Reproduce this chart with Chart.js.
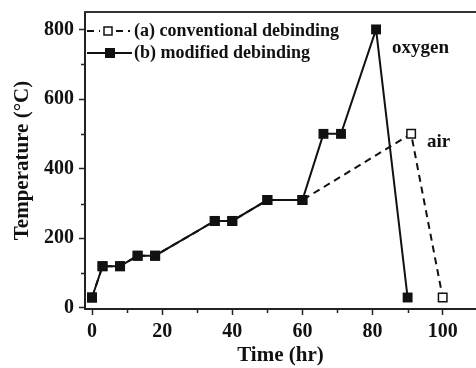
<!DOCTYPE html>
<html>
<head>
<meta charset="utf-8">
<script src="https://cdn.jsdelivr.net/npm/chart.js@4/dist/chart.umd.min.js"></script>
<style>
  html, body { margin: 0; padding: 0; background: #fff; }
  #wrap { width: 476px; height: 368px; }
</style>
</head>
<body>
<div id="wrap"><canvas id="debind"></canvas></div>
<script>
// (a) conventional debinding
const timeA = [0, 3, 8, 13, 18, 35, 40, 50, 60, 91, 100];
const tempA = [30, 120, 120, 150, 150, 250, 250, 310, 310, 500, 30];
// (b) modified debinding
const timeB = [0, 3, 8, 13, 18, 35, 40, 50, 60, 66, 71, 81, 90];
const tempB = [30, 120, 120, 150, 150, 250, 250, 310, 310, 500, 500, 800, 30];

const seriesNames = ['(a) conventional debinding', '(b) modified debinding'];
const xMajor = [0, 20, 40, 60, 80, 100];
const xMinor = [10, 30, 50, 70, 90];
const yMajor = [0, 200, 400, 600, 800];
const yMinor = [100, 300, 500, 700];

const serif = '"Liberation Serif", "Times New Roman", serif';

function pts(xs, ys) {
  return xs.map((x, i) => ({ x: x, y: ys[i] }));
}

// legend, notes, top frame line and minor ticks
const decor = {
  id: 'decor',
  afterDraw(chart) {
    const ctx = chart.ctx;
    const area = chart.chartArea;
    const xs = chart.scales.x, ys = chart.scales.y;
    ctx.save();
    ctx.strokeStyle = '#333';
    ctx.lineWidth = 2;
    ctx.beginPath();
    ctx.moveTo(area.left - 1, area.top);
    ctx.lineTo(area.right, area.top);
    ctx.stroke();

    ctx.strokeStyle = '#222';
    ctx.lineWidth = 1.5;
    ctx.beginPath();
    xMinor.forEach(v => {
      const px = Math.round(xs.getPixelForValue(v)) + 0.5;
      ctx.moveTo(px, area.bottom);
      ctx.lineTo(px, area.bottom + 4);
    });
    yMinor.forEach(v => {
      const py = Math.round(ys.getPixelForValue(v)) + 0.5;
      ctx.moveTo(area.left, py);
      ctx.lineTo(area.left - 4, py);
    });
    ctx.stroke();

    // legend
    ctx.font = 'bold 18px ' + serif;
    ctx.textBaseline = 'middle';
    ctx.textAlign = 'left';
    const lx = 87, ly1 = 31, ly2 = 53;
    ctx.strokeStyle = '#111';
    ctx.lineWidth = 2;
    ctx.setLineDash([7, 5]);
    ctx.beginPath();
    ctx.moveTo(lx, ly1); ctx.lineTo(100, ly1);
    ctx.moveTo(116, ly1); ctx.lineTo(130, ly1);
    ctx.stroke();
    ctx.setLineDash([]);
    ctx.lineWidth = 1.5;
    ctx.fillStyle = '#fff';
    ctx.fillRect(104, ly1 - 4, 8, 8);
    ctx.strokeRect(104, ly1 - 4, 8, 8);
    ctx.lineWidth = 2;
    ctx.beginPath();
    ctx.moveTo(lx, ly2); ctx.lineTo(132, ly2);
    ctx.stroke();
    ctx.fillStyle = '#111';
    ctx.fillRect(105, ly2 - 5, 10, 10);
    ctx.fillText(seriesNames[0], 134, ly1);
    ctx.fillText(seriesNames[1], 134, ly2);

    // atmosphere notes
    ctx.font = 'bold 19px ' + serif;
    ctx.fillText('oxygen', 392, 48);
    ctx.fillText('air', 427, 142);
    ctx.restore();
  }
};

new Chart(document.getElementById('debind'), {
  type: 'scatter',
  data: {
    datasets: [
      {
        label: seriesNames[0],
        data: pts(timeA, tempA),
        showLine: true,
        borderColor: '#111',
        borderWidth: 2,
        borderDash: [7, 5],
        pointStyle: 'rect',
        pointRadius: 6,
        pointBorderWidth: 1.5,
        pointBackgroundColor: '#fff',
        pointBorderColor: '#111',
        order: 1
      },
      {
        label: seriesNames[1],
        data: pts(timeB, tempB),
        showLine: true,
        borderColor: '#111',
        borderWidth: 2,
        pointStyle: 'rect',
        pointRadius: 7,
        pointBorderWidth: 0,
        pointBackgroundColor: '#111',
        pointBorderColor: '#111',
        order: 0
      }
    ]
  },
  options: {
    responsive: true,
    maintainAspectRatio: false,
    animation: false,
    layout: { autoPadding: false, padding: { top: 12, right: 0, left: 0, bottom: 0 } },
    plugins: {
      legend: { display: false },
      tooltip: { enabled: false }
    },
    scales: {
      x: {
        type: 'linear',
        min: -2,
        max: 109.5,
        afterFit(scale) {
          scale.height = 59;
          scale.paddingLeft = 0;
          scale.paddingRight = 0;
        },
        afterBuildTicks(scale) { scale.ticks = xMajor.map(v => ({ value: v })); },
        ticks: {
          includeBounds: false,
          color: '#111',
          padding: 5,
          font: { family: serif, size: 20, weight: 'bold' }
        },
        grid: { display: true, drawOnChartArea: false, tickLength: 6, tickWidth: 1.5, tickColor: '#222' },
        border: { color: '#222', width: 2 },
        title: {
          display: true,
          text: 'Time (hr)',
          color: '#111',
          padding: { top: 0, bottom: 0 },
          font: { family: serif, size: 21, weight: 'bold' }
        }
      },
      y: {
        type: 'linear',
        min: -3,
        max: 850,
        afterFit(scale) {
          scale.width = 85;
          scale.paddingTop = 0;
          scale.paddingBottom = 0;
        },
        afterBuildTicks(scale) { scale.ticks = yMajor.map(v => ({ value: v })); },
        ticks: {
          includeBounds: false,
          color: '#111',
          padding: 5,
          font: { family: serif, size: 20, weight: 'bold' }
        },
        grid: { display: true, drawOnChartArea: false, tickLength: 6, tickWidth: 1.5, tickColor: '#222' },
        border: { color: '#222', width: 2 },
        title: {
          display: true,
          text: 'Temperature (°C)',
          color: '#111',
          padding: { top: 10, bottom: 0 },
          font: { family: serif, size: 21, weight: 'bold' }
        }
      }
    }
  },
  plugins: [decor]
});
</script>
</body>
</html>
